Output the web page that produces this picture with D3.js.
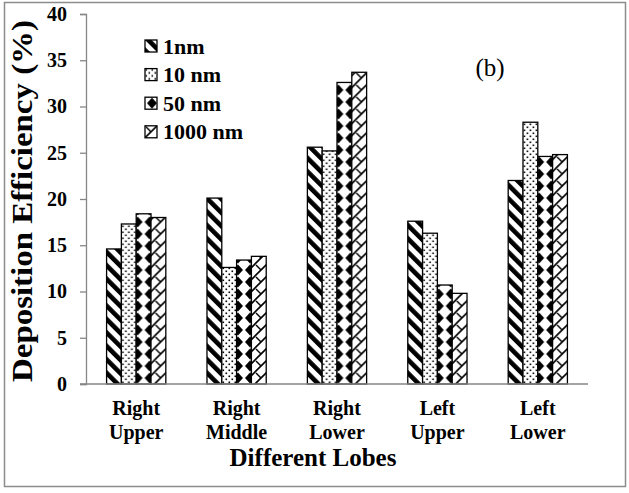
<!DOCTYPE html>
<html>
<head>
<meta charset="utf-8">
<script src="https://cdn.jsdelivr.net/npm/d3@7"></script>
<style>
  html, body { margin: 0; padding: 0; background: #fff; }
  svg { display: block; }
  svg text { font-family: "Liberation Serif", "Times New Roman", serif; fill: #000; }
</style>
</head>
<body>
<script>
// Deposition efficiency per lung lobe for four particle sizes
const lobes = [["Right", "Upper"], ["Right", "Middle"], ["Right", "Lower"], ["Left", "Upper"], ["Left", "Lower"]];
const sizes = ["1nm", "10 nm", "50 nm", "1000 nm"];
const eff1nm    = [14.6, 20.1, 25.6, 17.6, 22.0];
const eff10nm   = [17.3, 12.6, 25.2, 16.3, 28.3];
const eff50nm   = [18.4, 13.4, 32.6, 10.7, 24.6];
const eff1000nm = [18.0, 13.8, 33.7,  9.8, 24.8];
const yTicks = [0, 5, 10, 15, 20, 25, 30, 35, 40];

const series = [eff1nm, eff10nm, eff50nm, eff1000nm];
const SERIF = "'Liberation Serif', 'Times New Roman', serif";

const W = 629, H = 493;
const svg = d3.select("body").append("svg").attr("width", W).attr("height", H);

// Hatch fills, one per particle size
const defs = svg.append("defs");
// wide downward diagonal
const p0 = defs.append("pattern").attr("id", "pat0").attr("patternUnits", "userSpaceOnUse")
  .attr("width", 9.5).attr("height", 9.5).attr("patternTransform", "rotate(-45)");
p0.append("rect").attr("width", 9.5).attr("height", 9.5).attr("fill", "#fff");
p0.append("rect").attr("width", 4.6).attr("height", 9.5).attr("fill", "#000");
// small dots
const p1 = defs.append("pattern").attr("id", "pat1").attr("patternUnits", "userSpaceOnUse")
  .attr("width", 6).attr("height", 6);
p1.append("rect").attr("width", 6).attr("height", 6).attr("fill", "#fff");
p1.append("rect").attr("x", 0.5).attr("y", 0.5).attr("width", 1.6).attr("height", 1.6).attr("fill", "#000");
p1.append("rect").attr("x", 3.5).attr("y", 3.5).attr("width", 1.6).attr("height", 1.6).attr("fill", "#000");
// solid diamonds
const p2 = defs.append("pattern").attr("id", "pat2").attr("patternUnits", "userSpaceOnUse")
  .attr("width", 12).attr("height", 12).attr("x", 1);
p2.append("rect").attr("width", 12).attr("height", 12).attr("fill", "#fff");
p2.append("path").attr("d", "M6,0.5 L11,6 L6,11.5 L1,6 Z").attr("fill", "#000");
// dashed diagonal cross
const p3 = defs.append("pattern").attr("id", "pat3").attr("patternUnits", "userSpaceOnUse")
  .attr("width", 12).attr("height", 12);
p3.append("rect").attr("width", 12).attr("height", 12).attr("fill", "#fff");
p3.append("path").attr("d", "M0,12 L12,0 M-3,3 L3,-3 M9,15 L15,9").attr("stroke", "#000").attr("stroke-width", 1.6);
p3.append("path").attr("d", "M1,1 L6,6").attr("stroke", "#000").attr("stroke-width", 1.4);

// outer frame
svg.append("rect").attr("x", 4.5).attr("y", 2.5).attr("width", 621).attr("height", 484)
  .attr("fill", "none").attr("stroke", "#8c8c8c").attr("stroke-width", 1.5);

const x0 = d3.scaleBand().domain(d3.range(lobes.length)).range([86, 588]).paddingInner(0.41).paddingOuter(0.205);
const x1 = d3.scaleBand().domain(d3.range(sizes.length)).range([0, x0.bandwidth()]);
const y = d3.scaleLinear().domain([0, 40]).range([384, 14]);

// y axis
const yAxis = svg.append("g").attr("transform", "translate(86,0)")
  .call(d3.axisLeft(y).tickValues(yTicks).tickSize(6).tickPadding(13).tickFormat(d3.format("d")));
yAxis.attr("font-family", SERIF);
yAxis.select(".domain").attr("stroke", "#868686").attr("stroke-width", 1.3);
yAxis.selectAll(".tick line").attr("stroke", "#868686").attr("stroke-width", 1.3);
yAxis.selectAll(".tick text").attr("font-family", SERIF).attr("font-weight", "bold")
  .attr("font-size", 20).attr("fill", "#000");

// bars
const groups = svg.append("g").selectAll("g").data(lobes).join("g")
  .attr("transform", (d, i) => `translate(${x0(i)},0)`);
groups.selectAll("rect").data((d, i) => series.map((s, k) => ({ k, v: s[i] }))).join("rect")
  .attr("x", d => x1(d.k))
  .attr("y", d => y(d.v))
  .attr("width", x1.bandwidth())
  .attr("height", d => y(0) - y(d.v))
  .attr("fill", d => `url(#pat${d.k})`)
  .attr("stroke", "#000").attr("stroke-width", 1.3);

// baseline
svg.append("line").attr("x1", 80).attr("x2", 588).attr("y1", y(0)).attr("y2", y(0))
  .attr("stroke", "#868686").attr("stroke-width", 1.3);

// category labels
const cx = i => x0(i) + x0.bandwidth() / 2;
const catLabels = svg.append("g").selectAll("text").data(lobes).join("text")
  .attr("font-family", SERIF).attr("text-anchor", "middle").attr("font-weight", "bold").attr("font-size", 20);
catLabels.append("tspan").attr("y", 415).attr("x", (d, i) => cx(i)).text(d => d[0]);
catLabels.append("tspan").attr("y", 439).attr("x", (d, i) => cx(i)).text(d => d[1]);

// axis titles
svg.append("text").attr("font-family", SERIF).attr("x", 313).attr("y", 466).attr("text-anchor", "middle")
  .attr("font-weight", "bold").attr("font-size", 25).text("Different Lobes");
svg.append("text").attr("font-family", SERIF).attr("transform", "translate(32,201) rotate(-90)").attr("text-anchor", "middle")
  .attr("textLength", 362).attr("lengthAdjust", "spacingAndGlyphs")
  .attr("font-weight", "bold").attr("font-size", 30).text("Deposition Efficiency (%)");

// panel tag
svg.append("text").attr("font-family", SERIF).attr("x", 490).attr("y", 76).attr("text-anchor", "middle")
  .attr("font-size", 25).text("(b)");

// legend
const leg = svg.append("g").selectAll("g").data(sizes).join("g")
  .attr("transform", (d, i) => `translate(145,${40 + i * 28.6})`);
leg.append("rect").attr("width", 12).attr("height", 12)
  .attr("fill", (d, i) => `url(#pat${i})`).attr("stroke", "#000").attr("stroke-width", 1.3);
leg.append("text").attr("font-family", SERIF).attr("x", 18).attr("y", 13.5)
  .attr("font-weight", "bold").attr("font-size", 22).text(d => d);
</script>
</body>
</html>
